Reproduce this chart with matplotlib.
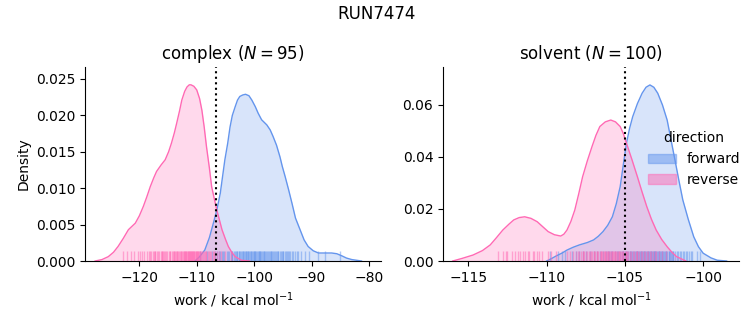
import numpy as np
import matplotlib
matplotlib.use("Agg")
import matplotlib.pyplot as plt

# density curves (x in kcal/mol, y = density)
cplx_fwd_x = [-110.3, -109.5, -108.6, -107.8, -107.1, -106.5, -105.9, -105.5, -105.1, -104.6,
              -104.2, -103.8, -103.3, -102.9, -102.5, -102.0, -101.5, -100.9, -100.4, -99.8,
              -99.3, -98.7, -97.8, -97.2, -96.7, -96.1, -95.5, -95.1, -94.6, -94.0,
              -93.4, -92.8, -92.0, -91.3, -90.6, -89.7, -88.8, -87.6, -86.5, -85.6,
              -84.7, -83.9, -83.0, -81.3]
cplx_fwd_y = [0.0, 0.0006, 0.0015, 0.0032, 0.0052, 0.0070, 0.0093, 0.0116, 0.0139, 0.0162,
              0.0184, 0.0200, 0.0212, 0.0221, 0.0226, 0.0228, 0.0229, 0.0227, 0.0221, 0.0212,
              0.0203, 0.0194, 0.0187, 0.0180, 0.0171, 0.0159, 0.0143, 0.0130, 0.0116, 0.0098,
              0.0079, 0.0059, 0.0043, 0.0029, 0.0020, 0.0014, 0.0011, 0.0011, 0.0011, 0.0010,
              0.0007, 0.0004, 0.0002, 0.0]
cplx_rev_x = [-127.7, -126.5, -125.4, -124.5, -123.7, -122.8, -121.9, -120.7, -120.0, -119.3,
              -118.7, -118.1, -117.5, -117.0, -116.2, -115.5, -114.9, -114.4, -113.9, -113.5,
              -113.0, -112.6, -112.1, -111.7, -111.3, -111.0, -110.5, -110.0, -109.5, -109.1,
              -108.7, -108.3, -107.8, -107.4, -106.9, -106.5, -106.0, -105.6, -105.0, -104.5,
              -103.9, -103.3, -102.2, -100.8]
cplx_rev_y = [0.0, 0.0002, 0.0006, 0.0012, 0.0020, 0.0031, 0.0043, 0.0052, 0.0062, 0.0075,
              0.0088, 0.0102, 0.0114, 0.0123, 0.0132, 0.0139, 0.0150, 0.0162, 0.0176, 0.0189,
              0.0206, 0.0221, 0.0233, 0.0239, 0.0242, 0.0242, 0.0240, 0.0235, 0.0223, 0.0207,
              0.0184, 0.0157, 0.0128, 0.0102, 0.0084, 0.0070, 0.0055, 0.0043, 0.0030, 0.0020,
              0.0012, 0.0006, 0.0001, 0.0]
solv_fwd_x = [-110.0, -109.7, -109.4, -109.0, -108.7, -108.3, -107.9, -107.4, -107.0, -106.7,
              -106.4, -106.1, -105.8, -105.55, -105.3, -105.1, -104.9, -104.7, -104.5, -104.2,
              -103.9, -103.65, -103.4, -103.15, -102.9, -102.6, -102.3, -102.05, -101.8, -101.55,
              -101.3, -100.95, -100.6, -100.3, -100.0, -99.5, -99.1, -98.5]
solv_fwd_y = [0.0, 0.0009, 0.0019, 0.0031, 0.0042, 0.0053, 0.0062, 0.0071, 0.0081, 0.0095,
              0.0113, 0.0137, 0.0170, 0.0220, 0.0286, 0.0370, 0.0453, 0.0510, 0.0555, 0.0605,
              0.0645, 0.0668, 0.0677, 0.0668, 0.0645, 0.0600, 0.0542, 0.0465, 0.0388, 0.0310,
              0.0235, 0.0160, 0.0093, 0.0055, 0.0030, 0.0012, 0.0003, 0.0]
solv_rev_x = [-116.0, -115.4, -114.7, -114.1, -113.6, -113.2, -112.8, -112.4, -112.1, -111.75,
              -111.4, -111.0, -110.6, -110.25, -109.9, -109.5, -109.1, -108.9, -108.7, -108.45,
              -108.2, -107.95, -107.7, -107.4, -107.1, -106.85, -106.6, -106.25, -105.9, -105.6,
              -105.3, -105.1, -104.9, -104.55, -104.2, -103.9, -103.6, -103.3, -103.0, -102.65,
              -102.3, -102.0, -101.7, -101.1]
solv_rev_y = [0.0, 0.0010, 0.0023, 0.0040, 0.0062, 0.0090, 0.0119, 0.0142, 0.0158, 0.0167,
              0.0170, 0.0164, 0.0151, 0.0132, 0.0113, 0.0101, 0.0096, 0.0103, 0.0119, 0.0152,
              0.0196, 0.0258, 0.0324, 0.0385, 0.0440, 0.0483, 0.0517, 0.0535, 0.0542, 0.0535,
              0.0517, 0.0490, 0.0453, 0.0390, 0.0324, 0.0265, 0.0209, 0.0160, 0.0119, 0.0083,
              0.0055, 0.0034, 0.0017, 0.0]

# rug samples (approximate positions read from the tick marks)
cplx_fwd_rug = [-109.5, -108.2, -107.4, -106.8, -106.1, -105.6, -105.2, -104.8, -104.4, -104.1,
                -103.8, -103.5, -103.2, -102.9, -102.7, -102.4, -102.2, -102.0, -101.8, -101.6,
                -101.4, -101.2, -101.0, -100.8, -100.6, -100.4, -100.2, -100.0, -99.8, -99.6,
                -99.4, -99.2, -99.0, -98.8, -98.6, -98.3, -98.1, -97.9, -97.6, -97.4, -97.1,
                -96.9, -96.6, -96.4, -96.1, -95.8, -95.5, -95.2, -94.9, -94.5, -94.1, -93.7,
                -93.2, -92.6, -91.9, -91.1, -87.6, -85.1,
                -106.4, -105.9, -105.4, -104.6, -103.9, -103.4, -103.0, -102.6, -102.3, -101.9,
                -101.5, -101.1, -100.9, -100.5, -100.1, -99.9, -99.5, -99.1, -98.9, -98.5,
                -98.2, -97.8, -97.3, -97.0, -96.7, -96.2, -95.9, -95.4, -95.0, -94.7,
                -94.3, -93.9, -93.4, -92.9, -92.3, -90.4, -88.9]
cplx_rev_rug = [-122.8, -122.1, -121.5, -120.2, -119.6, -119.1, -118.7, -118.2, -117.9, -117.5,
                -117.2, -116.9, -116.6, -116.3, -116.0, -115.7, -115.5, -115.2, -114.9, -114.6,
                -114.3, -114.1, -113.8, -113.6, -113.4, -113.2, -113.0, -112.8, -112.6, -112.4,
                -112.2, -112.1, -111.9, -111.8, -111.6, -111.5, -111.3, -111.2, -111.0, -110.9,
                -110.8, -110.6, -110.5, -110.4, -110.2, -110.1, -110.0, -109.8, -109.6, -109.4,
                -109.2, -108.9, -108.6, -108.3, -107.9, -107.5, -107.0, -106.2, -105.1, -104.0,
                -121.0, -119.9, -118.4, -117.7, -116.8, -116.1, -115.3, -114.7, -114.0, -113.5,
                -113.1, -112.7, -112.3, -112.0, -111.7, -111.4, -111.1, -110.95, -110.7, -110.3,
                -109.9, -109.7, -109.5, -109.0, -108.8, -108.4, -108.1, -107.7, -107.2, -106.8,
                -106.5, -105.7, -113.9, -115.9, -117.3]
solv_fwd_rug = [-109.0, -108.4, -107.9, -107.5, -107.0, -106.6, -106.2, -105.9, -105.6, -105.3,
                -105.0, -104.8, -104.6, -104.4, -104.2, -104.0, -103.9, -103.7, -103.6, -103.4,
                -103.3, -103.1, -103.0, -102.8, -102.7, -102.5, -102.4, -102.2, -102.0, -101.8,
                -101.6, -101.3, -101.0, -100.7, -100.4,
                -109.8, -109.3, -108.8, -108.1, -107.7, -107.2, -106.8, -106.4, -106.0, -105.8,
                -105.5, -105.2, -105.1, -104.9, -104.7, -104.5, -104.3, -104.1, -103.95, -103.8,
                -103.75, -103.65, -103.5, -103.45, -103.35, -103.2, -103.15, -103.05, -102.9, -102.85,
                -102.75, -102.6, -102.55, -102.45, -102.3, -102.1, -101.9, -101.7, -101.5, -101.2,
                -100.9, -104.15, -104.25, -104.35, -104.05, -103.85, -103.55, -103.25, -102.95, -102.65,
                -102.35, -102.15, -101.95, -101.4, -101.1, -100.8, -100.2, -105.45, -105.15, -104.85,
                -104.65, -104.55, -103.15, -102.05, -106.1]
solv_rev_rug = [-112.8, -112.5, -112.2, -111.8, -111.5, -111.2, -110.9, -110.6, -110.3, -109.9,
                -109.4, -108.7, -108.3, -107.9, -107.6, -107.3, -107.1, -106.9, -106.7, -106.5,
                -106.3, -106.2, -106.0, -105.9, -105.7, -105.6, -105.4, -105.3, -105.1, -104.9,
                -104.7, -104.5, -104.3, -104.0, -103.7, -103.4, -103.0, -102.6,
                -113.1, -112.6, -112.0, -111.7, -111.4, -111.1, -110.8, -110.5, -109.7,
                -108.5, -108.1, -107.8, -107.7, -107.5, -107.4, -107.2, -107.0, -106.95, -106.8,
                -106.75, -106.6, -106.55, -106.4, -106.35, -106.25, -106.15, -106.1, -106.05, -105.95,
                -105.85, -105.8, -105.75, -105.65, -105.55, -105.5, -105.45, -105.35, -105.2, -105.15,
                -105.0, -104.95, -104.8, -104.6, -104.4, -104.2, -104.1, -103.9, -103.8, -103.6,
                -103.5, -103.2, -103.1, -102.8, -102.4, -108.0, -107.65, -107.15, -106.45, -105.25,
                -104.85, -104.25, -103.35]

cplx_dg = -106.6
solv_dg = -105.0

fwd_color = "cornflowerblue"
rev_color = "hotpink"

fig = plt.figure(figsize=(7.53, 3.25), dpi=100)
ax1 = fig.add_axes([0.1129, 0.1969, 0.3931, 0.597])
ax2 = fig.add_axes([0.5883, 0.1969, 0.3931, 0.597])

panels = [
    (ax1, "complex ($N = 95$)", cplx_fwd_x, cplx_fwd_y, cplx_rev_x, cplx_rev_y,
     cplx_fwd_rug, cplx_rev_rug, cplx_dg, (-129.46, -77.9), 0.02665),
    (ax2, "solvent ($N = 100$)", solv_fwd_x, solv_fwd_y, solv_rev_x, solv_rev_y,
     solv_fwd_rug, solv_rev_rug, solv_dg, (-116.62, -97.71), 0.0746),
]

for ax, title, fx, fy, rx, ry, frug, rrug, dg, xlim, ytop in panels:
    for x, y, rug, c in [(fx, fy, frug, fwd_color), (rx, ry, rrug, rev_color)]:
        ax.fill_between(x, y, color=c, alpha=0.25, lw=0)
        ax.plot(x, y, color=c, lw=1)
        ax.vlines(rug, 0, 0.05, color=c, alpha=0.5, lw=1, transform=ax.get_xaxis_transform())
    ax.axvline(dg, color="k", ls=":", lw=1.5)
    ax.set_xlim(*xlim)
    ax.set_ylim(0, ytop)
    ax.set_title(title, fontsize=12)
    ax.set_xlabel("work / kcal mol$^{-1}$")
    ax.spines["top"].set_visible(False)
    ax.spines["right"].set_visible(False)

ax1.set_ylabel("Density")
ax1.set_xticks([-120, -110, -100, -90, -80])
ax2.set_xticks([-115, -110, -105, -100])
ax2.set_yticks([0, 0.02, 0.04, 0.06])

handles = [
    plt.Rectangle((0, 0), 1, 1, facecolor=fwd_color, edgecolor=fwd_color, alpha=0.5),
    plt.Rectangle((0, 0), 1, 1, facecolor=rev_color, edgecolor=rev_color, alpha=0.5),
]
fig.legend(handles, ["forward", "reverse"], title="direction", frameon=False,
           loc="center right", bbox_to_anchor=(1.0, 0.51))

fig.suptitle("RUN7474", fontsize=12, y=0.985)
fig.savefig("out.png", dpi=100)
